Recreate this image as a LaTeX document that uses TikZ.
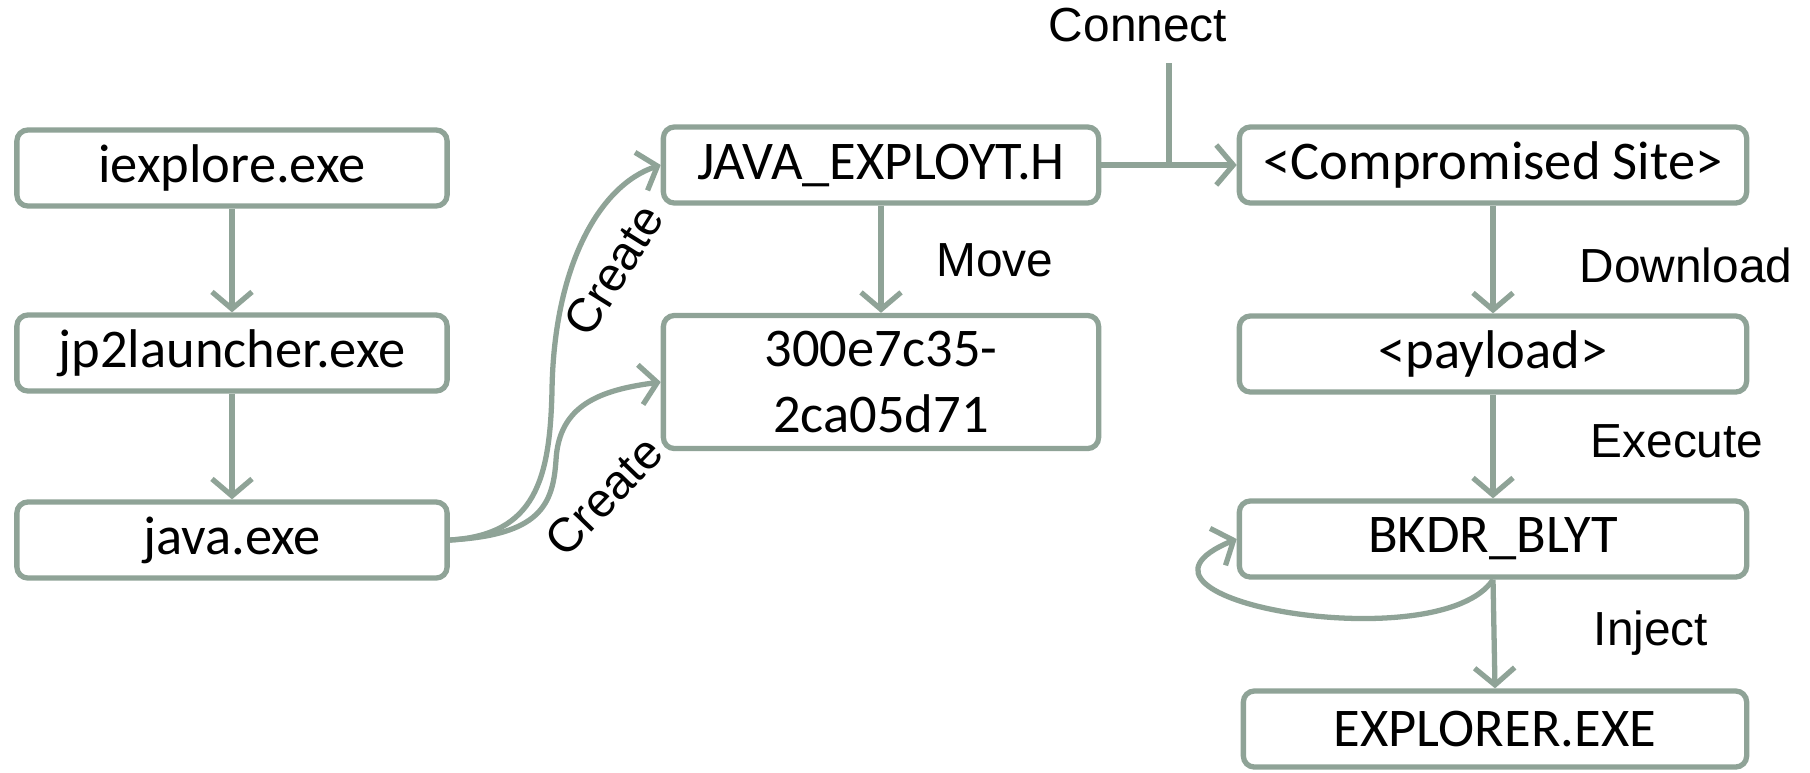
\documentclass[tikz,border=0pt]{standalone}
\usepackage{fontspec}
\setmainfont{Carlito}
\newfontfamily\labelfont{Liberation Sans}
\usetikzlibrary{arrows.meta}
\definecolor{linegray}{HTML}{8FA397}
\begin{document}
\begin{tikzpicture}
      [x=0.01cm, y=-0.01cm,
      proc/.style={draw=linegray, line width=1.5pt, rounded corners=1.1mm,
        minimum height=0.76cm, align=center, font=\fontsize{15.5}{19}\selectfont},
      flow/.style={draw=linegray, line width=1.5pt,
        -{Straight Barb[length=1.7mm,width=4mm]}},
      lbl/.style={font=\labelfont\fontsize{13.6}{16}\selectfont}]
      \useasboundingbox (0,0) rectangle (1810,772);
      \node[proc, minimum width=4.3cm] (iexplore) at (232,168) {iexplore.exe};
      \node[proc, minimum width=4.3cm] (jplaunch) at (232,353) {jp2launcher.exe};
      \node[proc, minimum width=4.3cm] (java) at (232,540) {java.exe};
      \node[proc, minimum width=4.35cm] (exploit) at (881,165) {JAVA\_EXPLOYT.H};
      \node[proc, minimum width=4.35cm, minimum height=1.33cm] (tmpfile) at (881,382)
        {300e7c35-\\2ca05d71};
      \node[proc, minimum width=5.07cm] (site) at (1493,165) {<Compromised Site>};
      \node[proc, minimum width=5.07cm] (payload) at (1493,354) {<payload>};
      \node[proc, minimum width=5.07cm] (bkdr) at (1493,539) {BKDR\_BLYT};
      \node[proc, minimum width=5.03cm] (explorer) at (1495,729) {EXPLORER.EXE};
      \coordinate (conn) at (1169,63);
      \draw[flow] (iexplore) -- (jplaunch);
      \draw[flow] (jplaunch) -- (java);
      \draw[flow] (java.east) .. controls (535,535) and (550,480) .. (552,390)
        .. controls (554,265) and (600,185) .. (exploit.west);
      \draw[flow] (java.east) .. controls (540,535) and (553,505) .. (556,460)
        .. controls (559,405) and (600,390) .. (tmpfile.west);
      \draw[flow] (exploit) -- (tmpfile);
      \draw[flow] (exploit) -- (site);
      \draw[draw=linegray, line width=1.5pt] (conn) -- (conn |- exploit.east);
      \draw[flow] (site) -- (payload);
      \draw[flow] (payload) -- (bkdr);
      \draw[flow] (bkdr.south) .. controls (1440,660) and (1090,600) .. (bkdr.west);
      \draw[flow] (bkdr.south) -- (explorer.north);
      \node[lbl] (connlbl) at (1138,25) {Connect};
      \node[lbl] (movelbl) at (995,260) {Move};
      \node[lbl] (dllbl) at (1686,265) {Download};
      \node[lbl] (execlbl) at (1677,441) {Execute};
      \node[lbl] (injlbl) at (1651,633) {Inject};
      \node[lbl, rotate=58] (createa) at (614,270) {Create};
      \node[lbl, rotate=46] (createb) at (604,496) {Create};
    \end{tikzpicture}
\end{document}
